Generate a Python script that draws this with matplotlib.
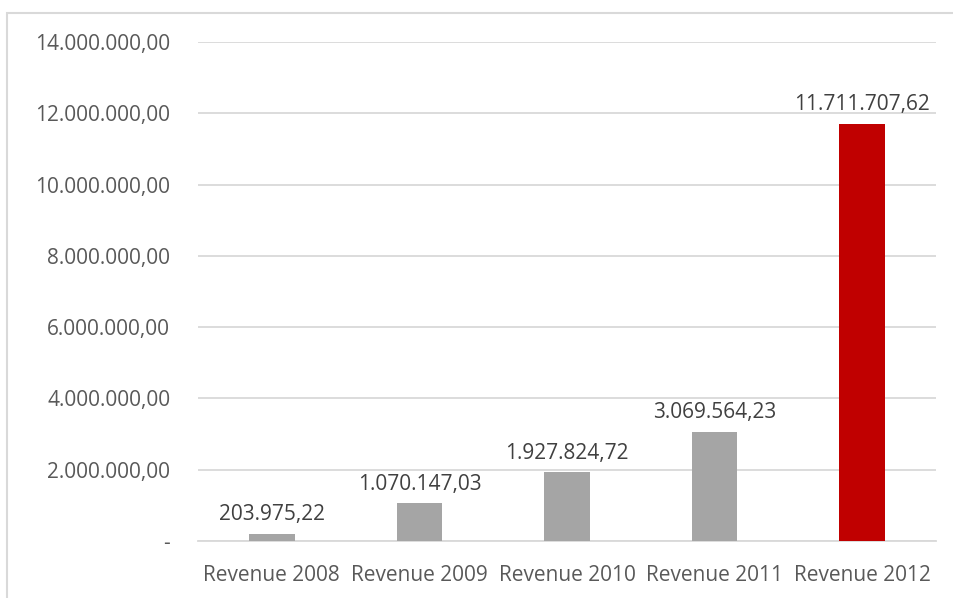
import matplotlib.pyplot as plt
from matplotlib.patches import Rectangle
from matplotlib.ticker import FuncFormatter

categories = ['Revenue 2008', 'Revenue 2009', 'Revenue 2010', 'Revenue 2011', 'Revenue 2012']
revenue = [203975.22, 1070147.03, 1927824.72, 3069564.23, 11711707.62]
bar_colors = ['#A5A5A5', '#A5A5A5', '#A5A5A5', '#A5A5A5', '#C00000']

TEXT = '#595959'
GRID = '#D9D9D9'
FS = 15

plt.rcParams['font.family'] = ['Open Sans', 'DejaVu Sans']


def euro_fmt(v, pos=None):
    if v == 0:
        return '-'
    s = f'{v:,.2f}'
    return s.replace(',', 'X').replace('.', ',').replace('X', '.')


fig = plt.figure(figsize=(9.54, 5.98), dpi=100)
W, H = 954, 598
ax = fig.add_axes([198 / W, 1 - 541 / H, 738 / W, (541 - 42) / H])

x = range(len(categories))
ax.bar(x, revenue, width=0.31, color=bar_colors, zorder=3)
for i, v in enumerate(revenue):
    ax.annotate(euro_fmt(v), (i, v), xytext=(0, 6), textcoords='offset points',
                ha='center', va='bottom', fontsize=FS, color='#404040')

ax.set_xlim(-0.5, len(categories) - 0.5)
ax.set_ylim(0, 14000000)
ax.set_yticks(range(0, 14000001, 2000000))
ax.yaxis.set_major_formatter(FuncFormatter(euro_fmt))
ax.set_xticks(list(x))
ax.set_xticklabels(categories)
ax.tick_params(axis='y', length=0, pad=20, labelsize=FS, labelcolor=TEXT)
ax.tick_params(axis='x', length=0, pad=17, labelsize=FS, labelcolor=TEXT)
ax.grid(axis='y', color=GRID, linewidth=1.3, zorder=0)
for side in ['top', 'right', 'left']:
    ax.spines[side].set_visible(False)
ax.spines['bottom'].set_color(GRID)
ax.spines['bottom'].set_linewidth(1.3)

# chart area outline
fig.patches.append(Rectangle((7 / W, -0.1), 1.2, 1.1 - 13 / H, transform=fig.transFigure,
                             fill=False, edgecolor=GRID, linewidth=1.5))

fig.savefig('out.png', dpi=100)
